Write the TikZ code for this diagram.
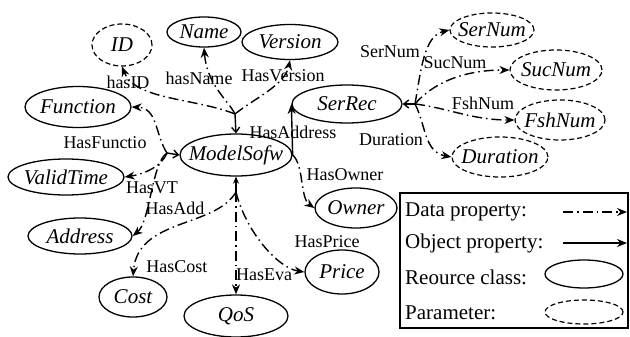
\documentclass[tikz,border=0pt]{standalone}
\usepackage{fontspec}
\setmainfont{Liberation Serif}[ItalicFont={Liberation Serif Italic},BoldFont={Liberation Serif Bold}]
\usetikzlibrary{shapes.geometric,arrows.meta}
\begin{document}
\begin{tikzpicture}[x=1pt,y=-1pt,
  res/.style={ellipse,draw,line width=1.3pt,inner sep=0pt},
  param/.style={ellipse,draw,line width=1.2pt,dash pattern=on 5pt off 3pt,inner sep=0pt},
  nm/.style={font=\fontsize{21}{24}\selectfont\itshape,inner sep=0pt},
  lbl/.style={font=\fontsize{18}{20}\selectfont,inner sep=0pt},
  lg/.style={font=\fontsize{21}{24}\selectfont,inner sep=0pt,anchor=west},
  tip/.style={-{Stealth[length=10pt,width=8pt]}},
  dprop/.style={line width=1.4pt,dash pattern=on 10pt off 4pt on 1.5pt off 4pt,tip},
  oprop/.style={line width=1.4pt,tip},
  stem/.style={line width=1.4pt,-{Straight Barb[length=5pt,width=8pt]}},
]
\useasboundingbox (0,0) rectangle (630,337);

% resource classes
\node[res,minimum width=112pt,minimum height=42pt,label={[nm]center:ModelSofw}] (ms) at (236,155) {};
\node[res,minimum width=74pt,minimum height=30pt,label={[nm]center:Name}] (name) at (204,32) {};
\node[res,minimum width=96pt,minimum height=35pt,label={[nm]center:Version}] (ver) at (290,42) {};
\node[res,minimum width=106pt,minimum height=41pt,label={[nm]center:Function}] (fn) at (78,107) {};
\node[res,minimum width=116pt,minimum height=36pt,label={[nm]center:ValidTime}] (vt) at (66,177) {};
\node[res,minimum width=104pt,minimum height=36pt,label={[nm]center:Address}] (ad) at (80,236) {};
\node[res,minimum width=68pt,minimum height=40pt,label={[nm]center:Cost}] (cost) at (133,297) {};
\node[res,minimum width=104pt,minimum height=42pt,label={[nm]center:QoS}] (qos) at (236,316) {};
\node[res,minimum width=74pt,minimum height=44pt,label={[nm]center:Price}] (price) at (342,272) {};
\node[res,minimum width=82pt,minimum height=40pt,label={[nm]center:Owner}] (own) at (356,208) {};
\node[res,minimum width=110pt,minimum height=38pt,label={[nm]center:SerRec}] (sr) at (347,104) {};

% parameters
\node[param,minimum width=60pt,minimum height=42pt,label={[nm]center:ID}] (id) at (122,45) {};
\node[param,minimum width=84pt,minimum height=34pt,label={[nm]center:SerNum}] (sn) at (492,30) {};
\node[param,minimum width=92pt,minimum height=40pt,label={[nm]center:SucNum}] (sc) at (556,70) {};
\node[param,minimum width=90pt,minimum height=40pt,label={[nm]center:FshNum}] (fs) at (560,120) {};
\node[param,minimum width=96pt,minimum height=40pt,label={[nm]center:Duration}] (du) at (500,157) {};

% branching points of the property bundles
\coordinate (jt) at (235,114);
\coordinate (jl) at (167,153);
\coordinate (jb) at (236,192);
\coordinate (jr) at (415,104);

\draw[stem] (jt) -- (ms.north);
\draw[stem] (jl) -- (ms.west);
\draw[line width=1.4pt,-{Stealth[length=7pt,width=6pt]}] (jb) -- (ms.south);
\draw[stem] (jr) -- (sr.east);

% upper bundle
\draw[dprop] (jt) .. controls (195,98) and (135,100) .. (id.south);
\draw[dprop] (jt) .. controls (228,100) and (207,85) .. (name.south);
\draw[dprop] (jt) .. controls (255,98) and (285,85) .. (ver.south);

% left bundle
\draw[dprop] (jl) .. controls (155,135) and (158,108) .. (fn.east);
\draw[dprop] (jl) .. controls (162,166) and (145,174) .. (vt.east);
\draw[dprop] (jl) .. controls (152,162) and (150,222) .. (ad.east);

% lower bundle
\draw[dprop] (jb) .. controls (215,228) and (138,218) .. (cost.north);
\draw[dprop] (jb) -- (qos.north);
\draw[dprop] (jb) .. controls (246,232) and (278,268) .. (price.west);

% right side
\draw[oprop] (ms.east) -- (sr.west);
\draw[dprop] (ms.east) .. controls (304,165) and (300,198) .. (own.west);

% SerRec bundle
\draw[dprop] (jr) .. controls (421,70) and (424,36) .. (sn.west);
\draw[dprop] (jr) .. controls (432,84) and (462,70) .. (sc.west);
\draw[dprop] (jr) .. controls (448,108) and (472,120) .. (fs.west);
\draw[dprop] (jr) .. controls (426,125) and (424,152) .. (du.west);

% property labels
\node[lbl] (lid) at (128,82) {hasID};
\node[lbl] (lname) at (199,78) {hasName};
\node[lbl] (lver) at (283,76) {HasVersion};
\node[lbl] (lfn) at (105,143) {HasFunctio};
\node[lbl] (lvt) at (152,188) {HasVT};
\node[lbl] (lad) at (175,208) {HasAdd};
\node[lbl] (lcost) at (177,267) {HasCost};
\node[lbl] (leva) at (264,275) {HasEva};
\node[lbl] (lprice) at (327,242) {HasPrice};
\node[lbl] (lown) at (345,175) {HasOwner};
\node[lbl] (laddr) at (293,132) {HasAddress};
\node[lbl] (lsn) at (390,52) {SerNum};
\node[lbl] (lsc) at (455,63) {SucNum};
\node[lbl] (lfs) at (483,103) {FshNum};
\node[lbl] (ldu) at (391,140) {Duration};

% legend
\draw[line width=1.2pt] (400,193) rectangle (628,328);
\node[lg] (t1) at (405,212) {Data property:};
\node[lg] (t2) at (405,243) {Object property:};
\node[lg] (t3) at (405,277) {Reource class:};
\node[lg] (t4) at (405,313) {Parameter:};
\coordinate (d1) at (563,212);
\coordinate (d2) at (627,212);
\coordinate (o1) at (563,243);
\coordinate (o2) at (627,243);
\draw[dprop] (d1) -- (d2);
\draw[oprop] (o1) -- (o2);
\node[res,minimum width=78pt,minimum height=28pt] (lr) at (584,274) {};
\node[param,minimum width=78pt,minimum height=24pt] (lp) at (584,312) {};
\end{tikzpicture}
\end{document}
